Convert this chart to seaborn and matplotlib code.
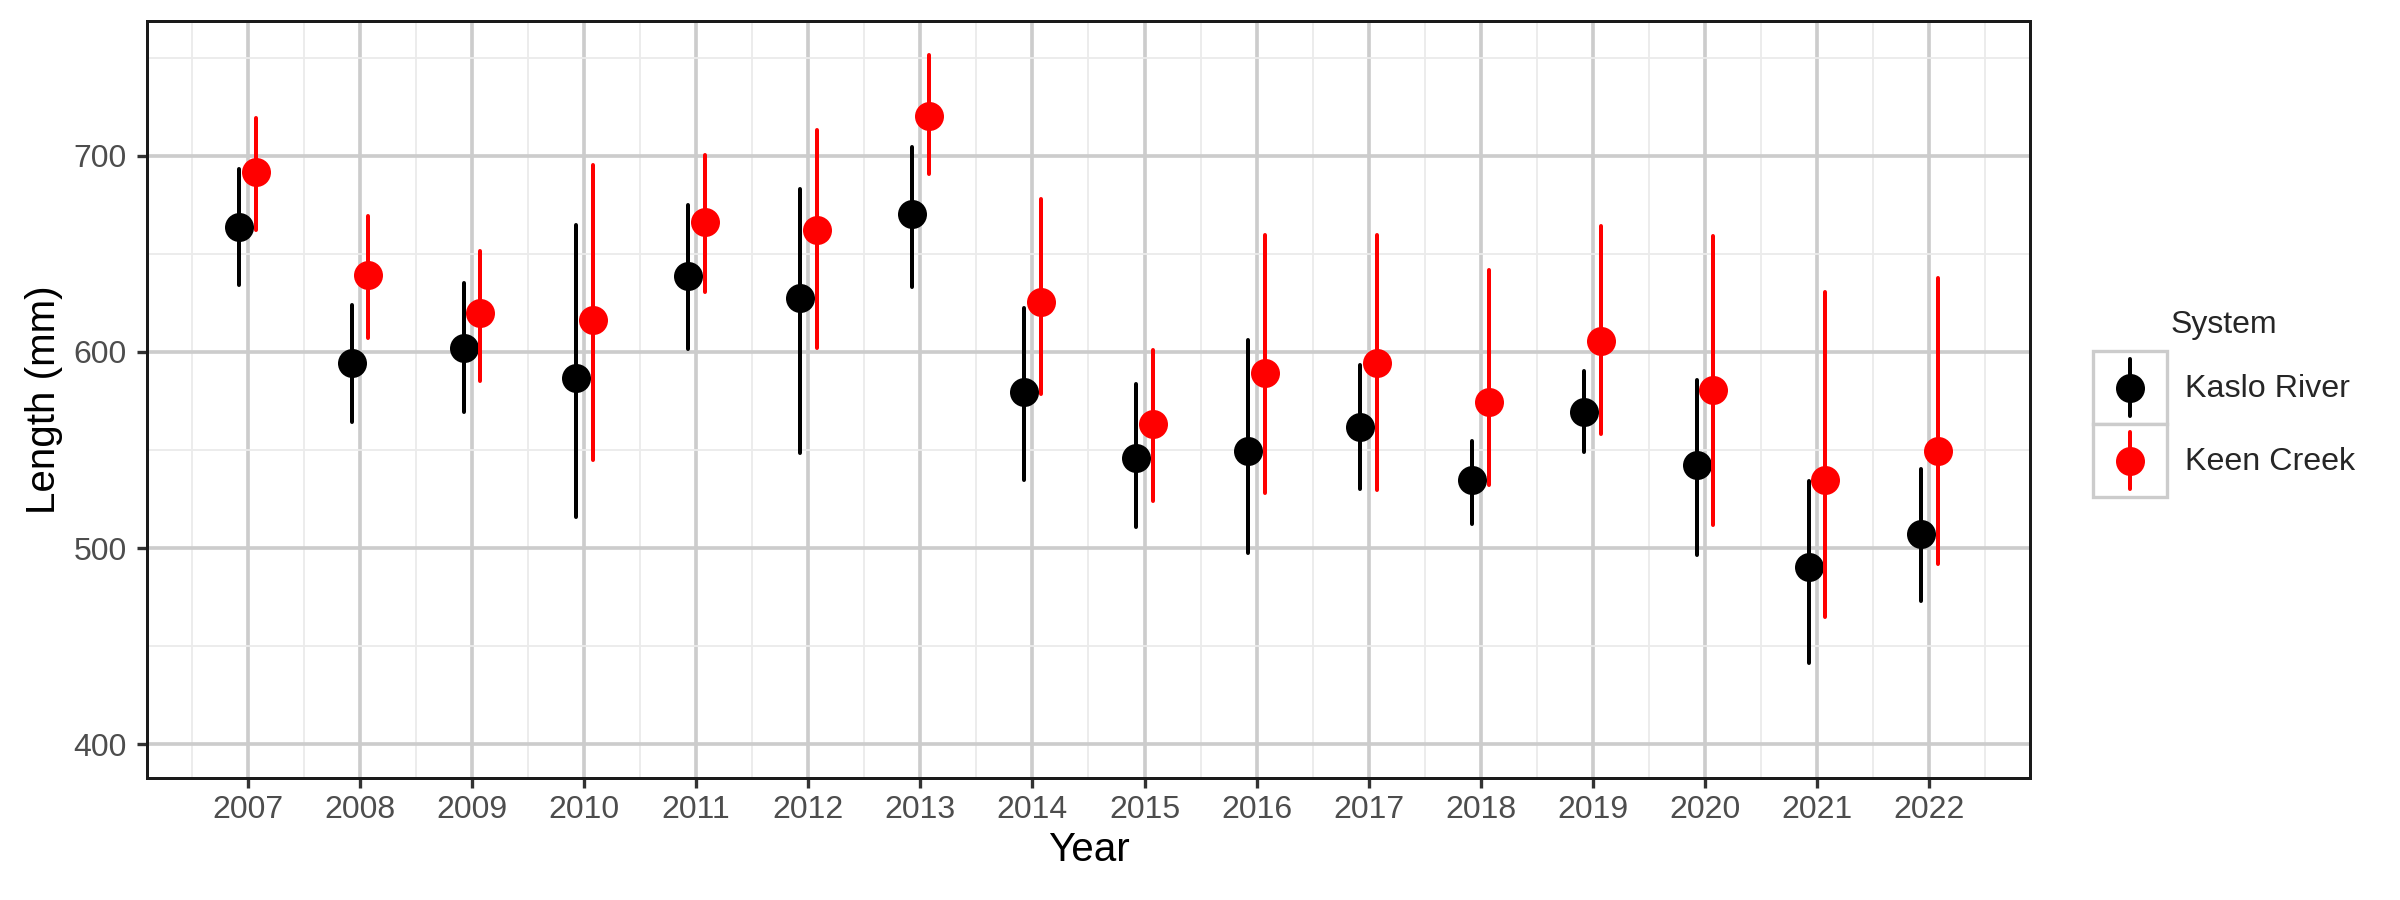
import numpy as np
import pandas as pd
import matplotlib
matplotlib.use("Agg")
import matplotlib.pyplot as plt
from matplotlib.lines import Line2D
from matplotlib.patches import Rectangle
from matplotlib.legend_handler import HandlerBase
import seaborn as sns

# ---------------- data ----------------
years = list(range(2007, 2023))
systems = ["Kaslo River", "Keen Creek"]

kaslo_mean = [663.8, 594.3, 601.8, 586.7, 638.5, 627.6, 670.6, 579.7,
              545.8, 549.7, 561.7, 534.6, 569.3, 542.4, 490.4, 507.0]
kaslo_lo = [633.9, 564.1, 569.5, 515.9, 601.6, 548.7, 633.1, 534.6,
            510.9, 497.4, 530.2, 512.0, 549.2, 496.4, 441.4, 472.9]
kaslo_hi = [693.2, 624.2, 635.2, 664.8, 674.7, 683.3, 704.7, 622.4,
            583.6, 606.0, 593.2, 554.4, 590.4, 585.7, 534.4, 540.4]

keen_mean = [691.7, 639.3, 620.1, 616.4, 666.1, 662.0, 720.6, 625.5,
             563.3, 589.1, 594.5, 574.7, 605.7, 580.7, 534.6, 549.7]
keen_lo = [662.2, 607.3, 585.2, 545.1, 630.7, 601.8, 690.9, 578.4,
           524.0, 528.1, 529.4, 532.3, 558.3, 511.5, 464.8, 491.7]
keen_hi = [719.5, 669.5, 651.3, 695.1, 700.5, 713.0, 751.6, 677.9,
           601.0, 659.4, 659.4, 641.7, 664.3, 659.1, 630.5, 637.5]

y_ticks = [400, 500, 600, 700]
colors = {"Kaslo River": "#000000", "Keen Creek": "#FF0000"}

# long-form table: each (year, system) has lower, mean, upper rows;
# median gives the point, min/max give the range
rows = []
for sys_name, m, lo, hi in [("Kaslo River", kaslo_mean, kaslo_lo, kaslo_hi),
                            ("Keen Creek", keen_mean, keen_lo, keen_hi)]:
    for yr, a, b, c in zip(years, lo, m, hi):
        for v in (a, b, c):
            rows.append({"Year": yr, "Length": v, "System": sys_name})
df = pd.DataFrame(rows)

# ---------------- style ----------------
sns.set_theme(style="white")
plt.rcParams["font.family"] = ["Liberation Sans", "DejaVu Sans"]

fig, ax = plt.subplots(figsize=(10, 3.75), dpi=240)
fig.subplots_adjust(left=147 / 2400, right=2030 / 2400,
                    top=1 - 21 / 900, bottom=1 - 778 / 900)

sns.pointplot(data=df, x="Year", y="Length", hue="System",
              hue_order=systems, palette=colors,
              estimator="median",
              errorbar=lambda v: (v.min(), v.max()),
              native_scale=True, dodge=0.15, linestyle="none",
              markers="o", markersize=8.7, markeredgewidth=0,
              err_kws={"linewidth": 1.2}, legend=False, ax=ax)

ax.set_xlim(2006.1, 2022.9)
ax.set_ylim(382.7, 768.8)
ax.set_xticks(years)
ax.set_xticklabels([str(y) for y in years])
ax.set_xticks(np.arange(2006.5, 2023.0, 1.0), minor=True)
ax.set_yticks(y_ticks)
ax.set_yticklabels([str(v) for v in y_ticks])
ax.set_yticks([450, 550, 650, 750], minor=True)

ax.set_axisbelow(True)
ax.grid(which="major", color="#CCCCCC", linewidth=1.1)
ax.grid(which="minor", color="#EBEBEB", linewidth=0.55)

for sp in ax.spines.values():
    sp.set_color("#1A1A1A")
    sp.set_linewidth(0.9)

ax.tick_params(which="major", direction="out", length=3.0, width=1.0,
               color="#333333", labelsize=9.6, labelcolor="#4D4D4D",
               bottom=True, left=True)
ax.tick_params(axis="x", which="major", pad=2.0)
ax.tick_params(axis="y", which="major", pad=3.0)
ax.tick_params(which="minor", length=0)

ax.set_xlabel("Year", fontsize=12.1, color="black", labelpad=2)
ax.set_ylabel("Length (mm)", fontsize=12.1, color="black", labelpad=3.3)


# ---------------- legend (ggplot-like keys) ----------------
class KeyHandler(HandlerBase):
    def create_artists(self, legend, orig_handle, xdescent, ydescent,
                       width, height, fontsize, trans):
        c = orig_handle.get_color()
        x0, y0 = -xdescent, -ydescent
        cx, cy = x0 + width / 2, y0 + height / 2
        rect = Rectangle((x0, y0), width, height, facecolor="white",
                         edgecolor="#CCCCCC", linewidth=1.0, transform=trans)
        pad = height * 0.11
        vline = Line2D([cx, cx], [y0 + pad, y0 + height - pad], color=c,
                       linewidth=1.2, transform=trans)
        dot = Line2D([cx], [cy], marker="o", markersize=8.7,
                     markeredgewidth=0, color=c, linestyle="none",
                     transform=trans)
        return [rect, vline, dot]


leg_fs = 9.7
# key box 22.2pt x 21.9pt
handlelength = 22.2 / leg_fs
handleheight = (21.9 / leg_fs - 0.245) / 0.65

handles = [Line2D([], [], color=colors[s]) for s in systems]
leg = fig.legend(handles, systems, title="System",
                 handler_map={Line2D: KeyHandler()},
                 loc="lower left",
                 bbox_to_anchor=(2093 / 2400, 1 - 497 / 900),
                 frameon=False, fontsize=leg_fs, title_fontsize=9.6,
                 handlelength=handlelength, handleheight=handleheight,
                 labelspacing=0.0, handletextpad=0.56,
                 borderpad=0.0, borderaxespad=0.0,
                 alignment="center")
# gap between legend title and keys
leg._legend_box.sep = 3.3

fig.savefig("out.png", dpi=240, facecolor="white")
